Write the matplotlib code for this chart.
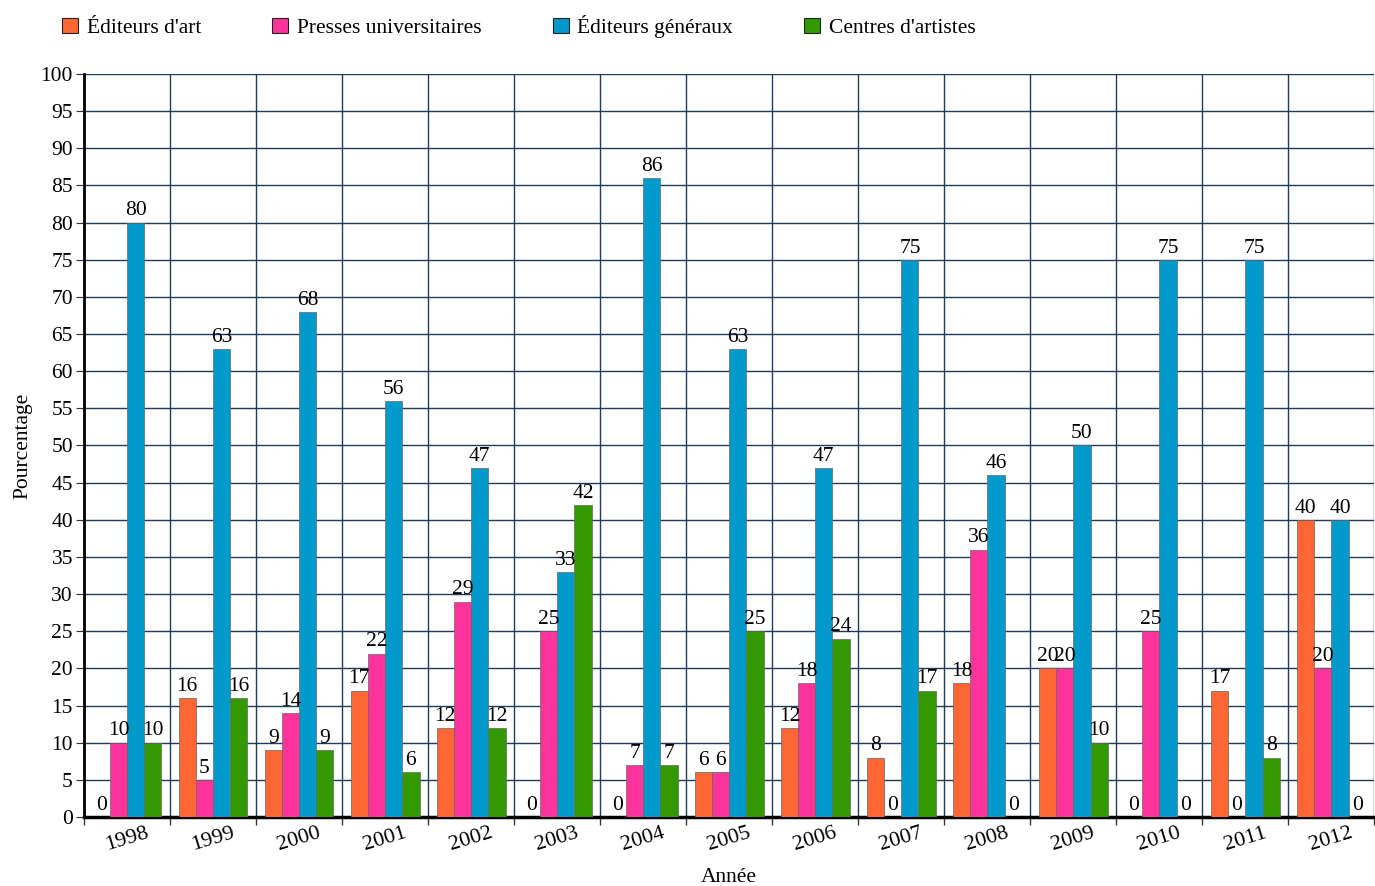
import numpy as np
import matplotlib.pyplot as plt
from matplotlib.patches import Patch

# Data
annees = ['1998', '1999', '2000', '2001', '2002', '2003', '2004', '2005',
          '2006', '2007', '2008', '2009', '2010', '2011', '2012']
editeurs_art = [0, 16, 9, 17, 12, 0, 0, 6, 12, 8, 18, 20, 0, 17, 40]
presses_univ = [10, 5, 14, 22, 29, 25, 7, 6, 18, 0, 36, 20, 25, 0, 20]
editeurs_gen = [80, 63, 68, 56, 47, 33, 86, 63, 47, 75, 46, 50, 75, 75, 40]
centres_art = [10, 16, 9, 6, 12, 42, 7, 25, 24, 17, 0, 10, 0, 8, 0]

series = [
    ("Éditeurs d'art", editeurs_art, '#ff6633'),
    ("Presses universitaires", presses_univ, '#ff3399'),
    ("Éditeurs généraux", editeurs_gen, '#0099cc'),
    ("Centres d'artistes", centres_art, '#339900'),
]

plt.rcParams['font.family'] = ['Liberation Serif', 'DejaVu Serif']

fig = plt.figure(figsize=(13.75, 8.86), dpi=100)
ax = fig.add_axes([0.0611, 0.0779, 0.9385, 0.8386])

x = np.arange(len(annees))
w = 0.2
grid_col = '#1f3b5c'

for i, (name, vals, col) in enumerate(series):
    pos = x - 0.3 + i * w
    ax.bar(pos, vals, width=w, color=col, edgecolor='#666666', linewidth=0.5, zorder=3)
    for p, v in zip(pos, vals):
        ax.text(p, v + 0.3, str(v), ha='center', va='bottom', fontsize=15.5, zorder=4)

ax.set_xlim(-0.5, len(annees) - 0.5)
ax.set_ylim(0, 100)
ax.set_yticks(range(0, 101, 5))
ax.set_xticks(x)
ax.set_xticklabels(annees, rotation=17, fontsize=16)
ax.set_xticks(np.arange(-0.5, len(annees)), minor=True)
ax.tick_params(axis='x', which='major', length=0, pad=5)
ax.tick_params(axis='x', which='minor', length=6, width=1, color='#333333')
ax.tick_params(axis='y', labelsize=15.5, length=6, pad=2, color='#333333')

ax.grid(axis='y', color=grid_col, linewidth=1, zorder=0)
ax.grid(axis='x', which='minor', color=grid_col, linewidth=1, zorder=0)
ax.set_axisbelow(True)

for s in ['top', 'right']:
    ax.spines[s].set_visible(False)
ax.spines['left'].set_linewidth(2)
ax.spines['bottom'].set_linewidth(2.5)

ax.set_ylabel('Pourcentage', fontsize=15.5, labelpad=6)
ax.set_xlabel('Année', fontsize=15.5, labelpad=9)

handles = [Patch(facecolor=c, edgecolor='#222222', linewidth=0.8) for _, _, c in series]
fig.legend(handles, [n for n, _, _ in series], loc='upper left',
           bbox_to_anchor=(0.031, 1.005), ncol=4, frameon=False, fontsize=15.5,
           handlelength=0.75, handleheight=0.75, handletextpad=0.4,
           columnspacing=3.3)

fig.savefig('out.png', dpi=100)
